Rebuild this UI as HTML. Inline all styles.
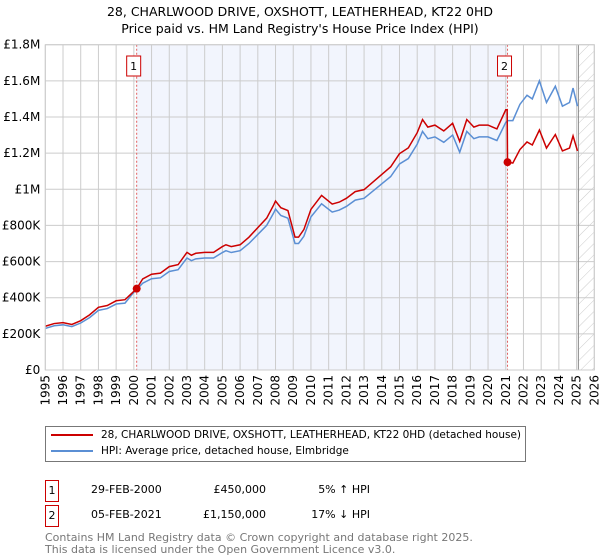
<!DOCTYPE html>
<html><head><meta charset="utf-8"><style>
body{margin:0;background:#fff;font-family:"DejaVu Sans","Liberation Sans",sans-serif;}
#wrap{position:relative;width:600px;height:560px;overflow:hidden}
.t{position:absolute;font-size:12px;color:#000;white-space:nowrap}
</style></head><body><div id="wrap">
<div class="t" style="left:0;width:600px;text-align:center;top:3px;line-height:17px;font-size:12.5px">28, CHARLWOOD DRIVE, OXSHOTT, LEATHERHEAD, KT22 0HD<br>Price paid vs. HM Land Registry's House Price Index (HPI)</div>
<svg id="chart" width="600" height="420" style="position:absolute;left:0;top:0" font-family="DejaVu Sans, Liberation Sans, sans-serif" font-size="12">
<defs><pattern id="hatch" width="8" height="8" patternUnits="userSpaceOnUse" patternTransform="rotate(45)"><line x1="0" y1="0" x2="0" y2="8" stroke="#ccc" stroke-width="1"/></pattern></defs>
</svg>
<div style="position:absolute;left:45px;top:426px;width:481px;height:36px;border:1px solid #777;box-sizing:border-box">
<div style="position:absolute;left:5px;top:2px;font-size:10.5px;white-space:nowrap"><span style="display:inline-block;width:42px;height:2px;background:#cc0000;vertical-align:middle;margin-right:8px"></span>28, CHARLWOOD DRIVE, OXSHOTT, LEATHERHEAD, KT22 0HD (detached house)</div>
<div style="position:absolute;left:5px;top:18px;font-size:10.5px;white-space:nowrap"><span style="display:inline-block;width:42px;height:2px;background:#5b8fd4;vertical-align:middle;margin-right:8px"></span>HPI: Average price, detached house, Elmbridge</div>
</div>
<div>
<div class="t" style="left:45px;top:480px;width:12px;height:20px;border:1px solid #cc0000;font-size:11px;text-align:center;line-height:20px">1</div>
<div class="t" style="left:91px;top:483px;font-size:11px">29-FEB-2000</div>
<div class="t" style="left:190px;width:76px;text-align:right;top:483px;font-size:11px">£450,000</div>
<div class="t" style="left:310px;width:60px;text-align:right;top:483px;font-size:11px">5% ↑ HPI</div>
</div>
<div>
<div class="t" style="left:45px;top:505px;width:12px;height:20px;border:1px solid #cc0000;font-size:11px;text-align:center;line-height:20px">2</div>
<div class="t" style="left:91px;top:508px;font-size:11px">05-FEB-2021</div>
<div class="t" style="left:190px;width:76px;text-align:right;top:508px;font-size:11px">£1,150,000</div>
<div class="t" style="left:310px;width:60px;text-align:right;top:508px;font-size:11px">17% ↓ HPI</div>
</div>
<div class="t" style="left:45px;top:532px;font-size:11px;line-height:11.5px;color:#777">Contains HM Land Registry data © Crown copyright and database right 2025.<br>This data is licensed under the Open Government Licence v3.0.</div>
</div>
<script>
const hpiYears=[1995,1995.5,1996,1996.5,1997,1997.5,1998,1998.5,1999,1999.5,2000,2000.5,2001,2001.5,2002,2002.5,2003,2003.25,2003.5,2004,2004.5,2005,2005.2,2005.5,2006,2006.5,2007,2007.5,2007.9,2008,2008.3,2008.7,2009.1,2009.3,2009.6,2010,2010.6,2011.2,2011.6,2012,2012.5,2013,2013.5,2014,2014.5,2015,2015.5,2016,2016.3,2016.6,2017,2017.5,2018,2018.4,2018.8,2019.2,2019.5,2020,2020.5,2021,2021.1,2021.4,2021.8,2022.2,2022.5,2022.9,2023.3,2023.8,2024.2,2024.6,2024.8,2025.05];
const hpiValues=[230,245,250,240,260,290,330,340,365,370,430,480,505,510,545,555,620,605,615,620,620,650,660,650,660,700,750,800,870,890,855,840,700,700,740,847,920,874,885,905,940,950,990,1030,1070,1140,1170,1250,1320,1280,1290,1260,1300,1205,1320,1280,1290,1290,1270,1370,1380,1380,1470,1520,1500,1600,1480,1570,1460,1480,1560,1460];
const priceYears=[1995,1995.5,1996,1996.5,1997,1997.5,1998,1998.5,1999,1999.5,2000.16,2000.5,2001,2001.5,2002,2002.5,2003,2003.25,2003.5,2004,2004.5,2005,2005.2,2005.5,2006,2006.5,2007,2007.5,2007.9,2008,2008.3,2008.7,2009.1,2009.3,2009.6,2010,2010.6,2011.2,2011.6,2012,2012.5,2013,2013.5,2014,2014.5,2015,2015.5,2016,2016.3,2016.6,2017,2017.5,2018,2018.4,2018.8,2019.2,2019.5,2020,2020.5,2021,2021.08,2021.1,2021.4,2021.8,2022.2,2022.5,2022.9,2023.3,2023.8,2024.2,2024.6,2024.8,2025.05];
const priceValues=[242,257,262,252,273,305,347,357,383,389,450,504,530,536,572,583,651,635,646,651,651,683,693,683,693,735,788,840,914,935,898,882,735,735,777,889,966,918,929,950,987,998,1040,1082,1124,1197,1229,1313,1386,1344,1355,1323,1365,1265,1386,1344,1355,1355,1334,1440,1440,1150,1145,1220,1262,1245,1328,1228,1303,1212,1228,1295,1212];
const yTicks=[0,200,400,600,800,1000,1200,1400,1600,1800];
const yTickLabels=["£0","£200K","£400K","£600K","£800K","£1M","£1.2M","£1.4M","£1.6M","£1.8M"];
const xTicks=[1995,1996,1997,1998,1999,2000,2001,2002,2003,2004,2005,2006,2007,2008,2009,2010,2011,2012,2013,2014,2015,2016,2017,2018,2019,2020,2021,2022,2023,2024,2025,2026];
const sales=[{label:"1",year:2000.16,value:450},{label:"2",year:2021.1,value:1150}];
const X0=45.3,X1=594.3,Y0=370,Y1=44.7;
const x=yr=>X0+(yr-1995)/(2026-1995)*(X1-X0);
const y=v=>Y0-v/1800*(Y0-Y1);
const svg=document.getElementById('chart');const NS='http://www.w3.org/2000/svg';
function mk(t,a,p){const e=document.createElementNS(NS,t);for(const k in a)e.setAttribute(k,a[k]);(p||svg).appendChild(e);return e;}
let e;
e=mk('rect',{x:x(sales[0].year),y:Y1,width:x(sales[1].year)-x(sales[0].year),height:Y0-Y1,fill:'#f2f5fd'});


e=mk('rect',{x:x(2025.1),y:Y1,width:X1-x(2025.1),height:Y0-Y1,fill:'url(#hatch)'});


yTicks.forEach((v,i)=>{
 e=mk('line',{x1:X0,x2:X1,y1:y(v),y2:y(v),stroke:'#ccc','stroke-width':1});
 
 
 e=mk('text',{x:X0-5,y:y(v)+4,'text-anchor':'end',fill:'#000'});e.textContent=yTickLabels[i];
 
 
});
xTicks.forEach(yr=>{
 e=mk('line',{x1:x(yr),x2:x(yr),y1:Y1,y2:Y0,stroke:'#ccc','stroke-width':1});
 
 
 e=mk('text',{x:0,y:0,'text-anchor':'end',transform:`translate(${x(yr)+4},${Y0+5}) rotate(-90)`,fill:'#000'});e.textContent=yr;
 
 
});
e=mk('line',{x1:x(2025.1),x2:x(2025.1),y1:Y1,y2:Y0,stroke:'#888','stroke-width':1});


sales.forEach(s=>{
 e=mk('line',{x1:x(s.year),x2:x(s.year),y1:Y1,y2:Y0,stroke:'#e06060','stroke-width':1,'stroke-dasharray':'2,2'});
 
 
});
e=mk('polyline',{points:hpiYears.map((t,i)=>x(t)+','+y(hpiValues[i])).join(' '),fill:'none',stroke:'#5b8fd4','stroke-width':1.5});


e=mk('polyline',{points:priceYears.map((t,i)=>x(t)+','+y(priceValues[i])).join(' '),fill:'none',stroke:'#cc0000','stroke-width':1.5});


sales.forEach(s=>{
 e=mk('circle',{cx:x(s.year),cy:y(s.value),r:4,fill:'#cc0000'});
 
 
 e=mk('rect',{x:x(s.year)-10,y:56,width:14,height:20,fill:'#fff',stroke:'#cc0000','stroke-width':1});
 
 
 e=mk('text',{x:x(s.year)-3,y:70,'text-anchor':'middle','font-size':11,fill:'#000'});e.textContent=s.label;
 
 
});
e=mk('rect',{x:X0,y:Y1,width:X1-X0,height:Y0-Y1,fill:'none',stroke:'#ccc','stroke-width':1});


</script>
</body></html>
